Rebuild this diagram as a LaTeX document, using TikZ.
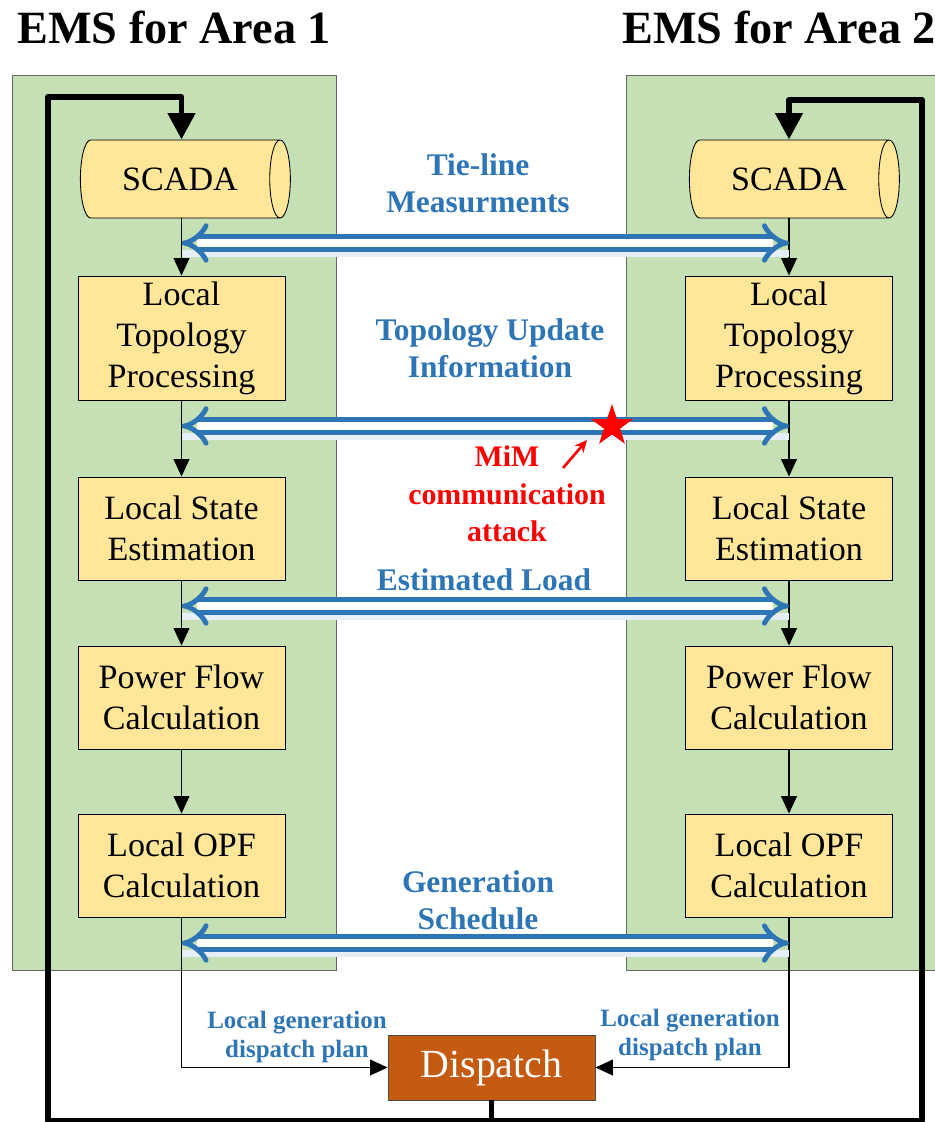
\documentclass[tikz,border=0pt]{standalone}
\usepackage{fontspec}
\setmainfont{Liberation Serif}
\usetikzlibrary{shapes.geometric,arrows.meta,positioning}

\definecolor{panelgreen}{HTML}{C5E0B4}
\definecolor{boxyellow}{HTML}{FFE699}
\definecolor{linkblue}{HTML}{2E75B6}
\definecolor{planbrown}{HTML}{C55A11}

\begin{document}
\begin{tikzpicture}[
    x=0.02cm, y=-0.02cm,
    panel/.style={
        draw=black!60, fill=panelgreen, line width=0.5pt,
    },
    stage/.style={
        draw, fill=boxyellow, line width=0.5pt,
        minimum width=4.14cm, minimum height=2.06cm,
        inner sep=0pt, align=center,
        font=\fontsize{19.4}{23.3}\selectfont,
    },
    store/.style={
        cylinder, shape aspect=0.9, draw, fill=boxyellow, line width=0.5pt,
        minimum width=1.56cm, minimum height=4.2cm, inner sep=0pt,
        font=\fontsize{19.4}{23.3}\selectfont,
    },
    plan/.style={
        draw=black!70, fill=planbrown, text=white, line width=0.5pt,
        minimum width=4.14cm, minimum height=1.3cm, inner sep=0pt,
        font=\fontsize{22.7}{26}\selectfont,
    },
    title/.style={
        anchor=west, inner sep=0pt,
        font=\fontsize{26.3}{30}\selectfont\bfseries,
    },
    linklabel/.style={
        text=linkblue, align=center, inner sep=0pt,
        font=\fontsize{17.9}{21}\selectfont\bfseries,
    },
    planlabel/.style={
        text=linkblue, align=center, inner sep=0pt,
        font=\fontsize{14.2}{16.4}\selectfont\bfseries,
    },
    attacklabel/.style={
        text=red, align=center, inner sep=0pt,
        font=\fontsize{17}{21.5}\selectfont\bfseries,
    },
    flow/.style={
        line width=0.85pt, -{Triangle[length=10pt, width=9pt]},
    },
    feedback/.style={
        line width=3.4pt, line join=round, -{Triangle[length=15pt, width=15pt]},
    },
    link/.style={
        draw=linkblue, double=white, line width=2.8pt, double distance=4.6pt,
        {Implies[scale=0.5]}-{Implies[scale=0.5]},
    },
    linkshade/.style={
        draw=linkblue!12, line width=3.5pt, transform canvas={yshift=-6pt},
    },
    ]
    \useasboundingbox (0,0) rectangle (934,1122);

    \node [title, at={(17,27)}] (area1) {EMS for Area 1};
    \node [title, at={(622,27)}] (area2) {EMS for Area 2};

    \path [panel] (12,75) rectangle (336,970);
    \path [panel] (626,75) rectangle (960,970);

    % area 1
    \node [store, at={(180,179)}] (scada1) {SCADA};
    \node [stage, minimum height=2.48cm, at={(181.5,338)}] (topo1) {Local\\Topology\\Processing};
    \node [stage, at={(181.5,528.5)}] (se1) {Local State\\Estimation};
    \node [stage, at={(181.5,697.5)}] (pf1) {Power Flow\\Calculation};
    \node [stage, at={(181.5,865.5)}] (opf1) {Local OPF\\Calculation};

    % area 2
    \node [store, at={(789,179)}] (scada2) {SCADA};
    \node [stage, minimum height=2.48cm, at={(789,338)}] (topo2) {Local\\Topology\\Processing};
    \node [stage, at={(789,528.5)}] (se2) {Local State\\Estimation};
    \node [stage, at={(789,697.5)}] (pf2) {Power Flow\\Calculation};
    \node [stage, at={(789,865.5)}] (opf2) {Local OPF\\Calculation};

    \node [plan, at={(491.5,1067.5)}] (disp) {Dispatch};

    \foreach \a in {1,2} {
        \draw [flow] (topo\a.north |- scada\a.south) -- (topo\a.north);
        \draw [flow] (topo\a) -- (se\a);
        \draw [flow] (se\a) -- (pf\a);
        \draw [flow] (pf\a) -- (opf\a);
    }
    \draw [flow] (opf1.south) |- (disp.west);
    \draw [flow] (opf2.south) |- (disp.east);

    % loop back to scada
    \coordinate (lb) at (48,1121);
    \coordinate (lt) at (48,97);
    \coordinate (rb) at (922,1121);
    \coordinate (rt) at (922,100);
    \draw [feedback] (disp.south) |- (lb) -- (lt) -| (topo1.north |- scada1.north);
    \draw [feedback] (disp.south) |- (rb) -- (rt) -| (topo2.north |- scada2.north);

    % exchanged data
    \foreach \k/\y in {tie/243, topo/426, load/606, gen/943} {
        \coordinate (\k1) at (181.5,\y);
        \coordinate (\k2) at (789,\y);
        \draw [linkshade] (\k1) -- (\k2);
        \draw [link] (\k1) -- (\k2);
    }

    \node [linklabel, at={(478,183)}] (tielabel) {Tie-line\\Measurments};
    \node [linklabel, at={(490,348)}] (topolabel) {Topology Update\\Information};
    \node [linklabel, at={(484,580)}] (loadlabel) {Estimated Load};
    \node [linklabel, at={(478,900)}] (genlabel) {Generation\\Schedule};
    \node [planlabel, at={(297,1037)}] (plan1) {Local generation\\dispatch plan};
    \node [planlabel, at={(690,1035)}] (plan2) {Local generation\\dispatch plan};

    % attack
    \node [star, star points=5, star point ratio=2.6, fill=red, inner sep=0pt,
        minimum size=0.88cm, at={(612,426)}] (hit) {};
    \node [attacklabel, at={(507,494)}] (mim) {MiM\\communication\\attack};
    \coordinate (aimfrom) at (563,468);
    \coordinate (aimto) at (587,440);
    \draw [red, line width=1.5pt, -{Stealth[length=7pt, width=6.5pt]}] (aimfrom) -- (aimto);
\end{tikzpicture}
\end{document}
